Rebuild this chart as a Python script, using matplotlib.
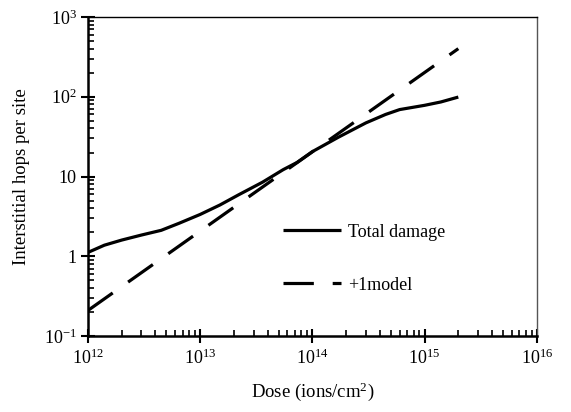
import matplotlib
matplotlib.use("Agg")
import matplotlib.pyplot as plt
from matplotlib.ticker import FixedLocator, LogLocator, NullFormatter

plt.rcParams["font.family"] = ["Liberation Serif", "DejaVu Serif"]
plt.rcParams["mathtext.fontset"] = "custom"
plt.rcParams["mathtext.rm"] = "Liberation Serif"
plt.rcParams["mathtext.it"] = "Liberation Serif:italic"

# dose (ions/cm2) and interstitial hops per site
dose_total = [1e12, 1.4e12, 2e12, 3e12, 4.5e12, 6.5e12, 1e13, 1.5e13,
              2.2e13, 3.6e13, 5.5e13, 7.3e13, 1e14, 1.7e14, 3e14, 4.5e14,
              6e14, 1e15, 1.4e15, 2e15]
hops_total = [1.12, 1.38, 1.6, 1.85, 2.12, 2.6, 3.35, 4.4,
              5.9, 8.5, 12.2, 15.0, 20.5, 31, 47, 60,
              69, 78, 86, 99]

dose_model = [1e12, 2e15]
hops_model = [0.21, 400]

x_ticks = [1e12, 1e13, 1e14, 1e15, 1e16]
x_labels = [r"$10^{12}$", r"$10^{13}$", r"$10^{14}$", r"$10^{15}$", r"$10^{16}$"]
y_ticks = [0.1, 1, 10, 100, 1000]
y_labels = [r"$10^{-1}$", "1", "10", r"$10^{2}$", r"$10^{3}$"]

fig = plt.figure(figsize=(5.71, 4.12), dpi=100)
ax = fig.add_axes([0.154, 0.184, 0.786, 0.775])

ax.plot(dose_total, hops_total, color="black", linewidth=2.3,
        solid_capstyle="butt", solid_joinstyle="round", label="Total damage")
ax.plot(dose_model, hops_model, color="black", linewidth=2.3,
        dashes=(9.5, 5.9), dash_capstyle="butt", label="+1model")

ax.set_xscale("log")
ax.set_yscale("log")
ax.set_xlim(1e12, 1e16)
ax.set_ylim(0.1, 1000)

ax.xaxis.set_major_locator(FixedLocator(x_ticks))
ax.set_xticklabels(x_labels)
ax.yaxis.set_major_locator(FixedLocator(y_ticks))
ax.set_yticklabels(y_labels)
ax.xaxis.set_minor_locator(LogLocator(base=10, subs=range(2, 10), numticks=20))
ax.yaxis.set_minor_locator(LogLocator(base=10, subs=range(2, 10), numticks=20))
ax.xaxis.set_minor_formatter(NullFormatter())
ax.yaxis.set_minor_formatter(NullFormatter())

ax.tick_params(which="major", direction="inout", length=10, width=1.5,
               labelsize=13, top=False, right=False)
ax.tick_params(which="minor", direction="in", length=4.5, width=1.2,
               top=False, right=False)
ax.tick_params(axis="x", which="major", pad=4)
ax.tick_params(axis="y", which="major", pad=3)

ax.spines["left"].set_linewidth(1.8)
ax.spines["bottom"].set_linewidth(1.8)
ax.spines["top"].set_linewidth(1.0)
ax.spines["right"].set_linewidth(1.0)
ax.spines["right"].set_color("#555555")

ax.set_xlabel(r"Dose (ions/cm$^{2}$)", fontsize=13.5, labelpad=9)
ax.set_ylabel("Interstitial hops per site", fontsize=13.5, labelpad=10)

ax.legend(loc="center left", bbox_to_anchor=(0.435, 0.243), frameon=False,
          fontsize=13, handlelength=3.2, handletextpad=0.4,
          labelspacing=2.0, borderpad=0, borderaxespad=0)

fig.savefig("out.png", dpi=100)
